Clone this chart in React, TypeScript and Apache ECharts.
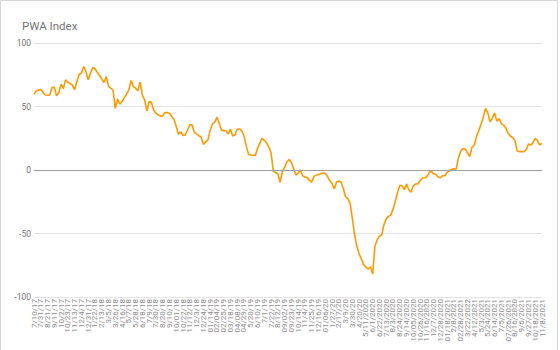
import React, { useEffect, useRef } from "react";
import * as echarts from "echarts";

const TITLE = "PWA Index";

const tickLabels: string[] = [
  "7/10/17", "7/31/17", "8/21/17", "9/11/17", "10/2/17", "10/23/17", "11/13/17", "12/4/17",
  "12/31/17", "1/22/18", "2/13/18", "3/5/18", "3/26/18", "4/16/18", "5/7/18", "5/28/18",
  "6/18/18", "7/9/18", "7/30/18", "8/20/18", "9/10/18", "10/01/18", "10/22/18", "11/12/18",
  "12/3/18", "12/24/18", "01/14/19", "02/04/19", "02/25/19", "03/18/19", "04/08/19", "04/29/19",
  "5/20/19", "6/10/19", "7/1/19", "7/22/19", "8/12/19", "09/02/19", "09/23/19", "10/14/19",
  "11/4/19", "11/25/19", "12/16/19", "01/06/20", "1/27/20", "2/17/20", "3/9/20", "3/30/20",
  "4/20/20", "5/11/2020", "6/1/2020", "6/22/2020", "7/13/2020", "8/3/2020", "8/24/2020", "9/14/2020",
  "10/05/2020", "10/26/2020", "11/16/2020", "12/7/2020", "12/28/2020", "01/18/2021", "2/8/2021", "02/28/2021",
  "3/22/2022", "4/12/2021", "5/3/2021", "5/24/2021", "6/14/2021", "7/5/2021", "07/26/2021", "8/16/2020",
  "9/6/2021", "9/27/2021", "10/18/2021", "11/8/2021",
];

// weekly values (one labelled tick every third week)
const pwaValues: number[] = [
  59.7, 62.3, 62.8, 63.6, 61.0, 59.1, 58.9, 59.0, 64.9, 65.2,
  58.4, 61.0, 67.6, 64.1, 71.0, 69.1, 68.1, 67.0, 63.1, 69.7,
  75.4, 76.2, 81.5, 77.5, 71.0, 76.0, 80.7, 79.7, 77.0, 74.4,
  71.8, 68.9, 73.6, 66.0, 64.4, 63.0, 48.6, 56.0, 51.8, 53.9,
  57.0, 59.7, 63.1, 70.5, 65.7, 64.4, 62.3, 69.1, 59.0, 55.2,
  46.5, 53.9, 53.4, 47.3, 44.7, 43.4, 42.3, 42.6, 45.2, 45.2,
  44.7, 42.1, 40.0, 34.2, 28.1, 30.2, 27.1, 27.6, 31.5, 35.5,
  35.5, 29.7, 28.4, 27.0, 26.0, 20.2, 22.1, 23.5, 31.0, 36.3,
  37.5, 41.5, 37.0, 31.5, 31.0, 31.0, 28.4, 32.1, 26.8, 27.6,
  32.1, 32.3, 31.0, 27.0, 19.0, 12.5, 11.8, 11.5, 11.5, 17.0,
  21.0, 25.0, 23.4, 21.5, 18.0, 13.6, -1.1, -2.0, -3.0, -9.9,
  -1.0, 2.0, 6.5, 8.2, 6.0, 1.0, -4.0, -2.5, 0.0, -4.5,
  -5.5, -6.0, -8.0, -9.7, -5.0, -4.0, -3.8, -3.0, -2.3, -2.5,
  -5.0, -8.5, -10.5, -15.0, -9.5, -8.6, -9.5, -14.5, -21.0, -22.5,
  -26.0, -38.0, -51.0, -60.0, -66.0, -70.0, -74.5, -76.5, -78.0, -76.2,
  -82.0, -60.0, -55.0, -52.0, -51.2, -43.0, -38.5, -36.5, -35.5, -31.0,
  -25.0, -18.0, -12.0, -12.4, -15.5, -11.0, -15.5, -17.5, -12.5, -11.0,
  -11.0, -8.5, -6.5, -6.1, -5.5, -2.0, -1.0, -3.0, -3.5, -5.5,
  -6.1, -4.5, -4.4, -2.0, -0.5, 0.5, 1.0, 0.8, 9.5, 14.8,
  17.0, 16.5, 13.5, 10.5, 18.0, 19.5, 26.5, 31.0, 36.0, 41.5,
  48.5, 45.0, 38.0, 40.5, 45.0, 38.5, 40.5, 36.5, 35.3, 33.0,
  29.0, 26.8, 25.6, 23.5, 15.0, 14.5, 14.5, 14.5, 16.0, 20.5,
  19.5, 21.5, 24.9, 23.0, 19.7, 21.0,
];

const LABEL_EVERY = 3;
const Y_MIN = -100;
const Y_MAX = 100;
const Y_STEP = 50;

export default function App() {
  const ref = useRef<HTMLDivElement>(null);

  useEffect(() => {
    document.body.style.margin = "0";
    if (!ref.current) return;
    const chart = echarts.init(ref.current, undefined, { renderer: "svg" });

    // one unique category per week; only every third one carries a visible label
    const categories = pwaValues.map((_, i) => "w" + i);

    chart.setOption({
      animation: false,
      backgroundColor: "#ffffff",
      textStyle: { fontFamily: "Roboto" },
      title: {
        text: TITLE,
        left: 17,
        top: 15,
        textStyle: { fontFamily: "Roboto", fontSize: 11.5, fontWeight: "normal", color: "#757575" },
      },
      graphic: [
        {
          type: "rect",
          shape: { x: 0.5, y: 0.5, width: 557, height: 360 },
          style: { fill: "none", stroke: "#d6d6d6", lineWidth: 1 },
          silent: true,
        },
      ],
      grid: { left: 34, right: 18, top: 43, bottom: 53 },
      xAxis: {
        type: "category",
        data: categories,
        boundaryGap: false,
        axisLine: { show: false },
        axisTick: { show: false },
        splitLine: { show: false },
        axisLabel: {
          interval: 0,
          rotate: 90,
          fontSize: 8,
          color: "#8c8c8c",
          margin: 2,
          fontFamily: "Roboto",
          formatter: (_v: string, idx: number) =>
            idx % LABEL_EVERY === 0 ? tickLabels[idx / LABEL_EVERY] ?? "" : "",
        },
      },
      yAxis: {
        type: "value",
        min: Y_MIN,
        max: Y_MAX,
        interval: Y_STEP,
        axisLine: { show: false },
        axisTick: { show: false },
        axisLabel: { fontSize: 8.5, color: "#757575", margin: 3, fontFamily: "Roboto" },
        splitLine: { lineStyle: { color: "#e3e3e3", width: 1 } },
      },
      series: [
        {
          type: "line",
          data: pwaValues,
          showSymbol: false,
          symbol: "none",
          lineStyle: { color: "#ff9900", width: 1.6 },
          itemStyle: { color: "#ff9900" },
          markLine: {
            silent: true,
            symbol: "none",
            label: { show: false },
            lineStyle: { color: "#9e9e9e", width: 1, type: "solid" },
            data: [{ yAxis: 0 }],
          },
          z: 3,
        },
      ],
    });

    return () => chart.dispose();
  }, []);

  return <div ref={ref} style={{ width: 560, height: 350 }} />;
}
